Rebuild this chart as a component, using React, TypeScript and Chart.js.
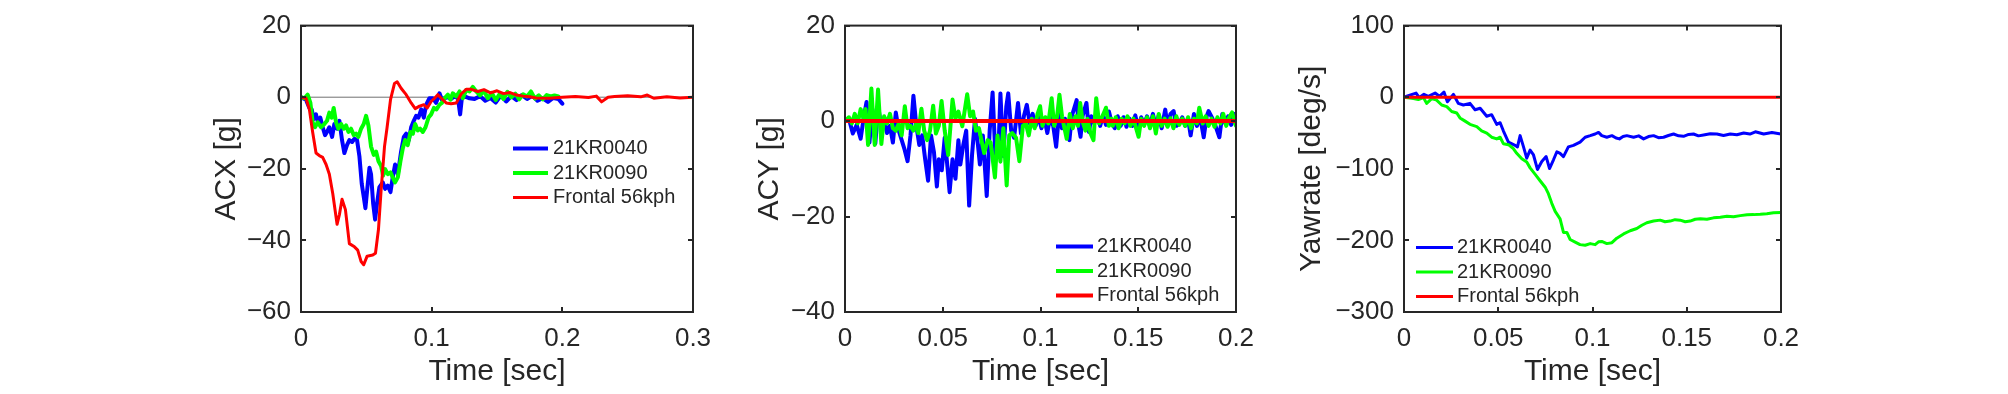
import React, { useEffect, useRef } from "react";
import { Chart, registerables } from "chart.js";

Chart.register(...registerables);

const FONT = "'Liberation Sans', Arial, Helvetica, sans-serif";
const INK = "#262626";
const BLUE = "#0000ff";
const GREEN = "#00ff00";
const RED = "#ff0000";

const SERIES_LABELS = ["21KR0040", "21KR0090", "Frontal 56kph"];
const X_TITLE = "Time [sec]";

type Pt = [number, number];

// ---------- ACX [g] ----------
const ACX_0040: Pt[] = [
  [0, 0], [0.0013, -0.3], [0.0038, -0.7], [0.0064, -3.0], [0.0082, -3.4], [0.0097, -6.1], [0.0115, -4.8],
  [0.0133, -7.5], [0.0148, -5.7], [0.0166, -8.4], [0.0184, -10.6], [0.0199, -9.7], [0.0217, -8.4],
  [0.0238, -11.1], [0.0255, -7.5], [0.0276, -8.8], [0.0294, -6.6], [0.0314, -12.0], [0.0332, -15.6],
  [0.0352, -13.4], [0.037, -12.0], [0.0391, -12.5], [0.0409, -11.6], [0.0429, -12.0], [0.0447, -16.5],
  [0.0465, -24.2], [0.048, -27.8], [0.0493, -31.0], [0.0511, -24.2], [0.0524, -19.7], [0.0536, -21.5],
  [0.0552, -29.6], [0.0567, -34.2], [0.0582, -29.6], [0.06, -25.1], [0.0626, -23.8], [0.0644, -25.6],
  [0.0664, -24.7], [0.0685, -26.5], [0.0702, -22.4], [0.072, -18.8], [0.0741, -21.5], [0.0766, -15.2],
  [0.0787, -11.1], [0.0805, -10.2], [0.0825, -12.0], [0.0843, -8.4], [0.0863, -6.6], [0.0881, -5.2],
  [0.0899, -5.7], [0.092, -3.4], [0.094, -5.7], [0.0958, -2.1], [0.0983, -0.3], [0.1009, -0.3],
  [0.1034, -1.6], [0.106, 1.1], [0.1078, -0.7], [0.1098, -0.3], [0.1124, 0.0], [0.1149, -0.5],
  [0.1175, 0.2], [0.1201, -0.3], [0.1218, -4.8], [0.1231, -0.3], [0.1252, 0.2], [0.129, -0.3],
  [0.1328, -0.5], [0.137, 0.3], [0.141, -1.0], [0.145, -0.2], [0.149, -1.5], [0.153, 0.5], [0.157, -1.2],
  [0.161, 0.3], [0.165, -0.8], [0.169, 0.6], [0.173, -0.5], [0.177, 0.4], [0.181, -1.0], [0.185, -0.3],
  [0.189, -1.3], [0.193, -0.2], [0.197, -0.5], [0.2, -1.8],
];
const ACX_0090: Pt[] = [
  [0, 0], [0.0026, -0.3], [0.0051, 0.7], [0.0072, -1.6], [0.0089, -7.0], [0.0107, -8.4], [0.0128, -7.0],
  [0.0153, -8.4], [0.0179, -7.5], [0.0199, -6.6], [0.0217, -4.3], [0.0235, -5.7], [0.025, -3.0],
  [0.0268, -7.0], [0.0286, -8.8], [0.0307, -7.5], [0.0327, -8.8], [0.0345, -7.9], [0.0363, -9.7],
  [0.0383, -8.8], [0.0404, -10.6], [0.0421, -10.2], [0.0439, -11.1], [0.046, -8.8], [0.048, -7.5],
  [0.0498, -5.2], [0.0516, -7.9], [0.0536, -13.8], [0.0557, -16.1], [0.0575, -15.2], [0.0593, -17.9],
  [0.0613, -19.2], [0.0628, -21.9], [0.0644, -20.1], [0.0664, -21.5], [0.0685, -21.0], [0.0702, -22.4],
  [0.072, -23.8], [0.0741, -22.4], [0.0761, -17.9], [0.0779, -14.3], [0.0797, -12.0], [0.0817, -13.4],
  [0.0838, -9.7], [0.0856, -10.2], [0.0874, -7.5], [0.0894, -9.3], [0.0912, -8.8], [0.0932, -9.7],
  [0.0953, -8.4], [0.0976, -5.7], [0.0996, -4.8], [0.1017, -3.0], [0.1037, -3.4], [0.106, -2.1],
  [0.1078, -1.6], [0.1098, -0.3], [0.1124, 0.7], [0.1144, -0.7], [0.1162, 1.1], [0.1188, 0.2],
  [0.1213, 1.6], [0.1239, -0.3], [0.1264, 2.0], [0.129, 1.6], [0.1315, 2.9], [0.1341, 1.6],
  [0.137, 0.5], [0.14, 1.8], [0.143, -0.3], [0.146, 1.2], [0.149, -0.8], [0.152, 0.9], [0.155, -0.5],
  [0.158, 1.5], [0.161, 0.0], [0.164, 1.0], [0.167, -0.6], [0.17, 0.8], [0.173, 0.2], [0.176, 1.6],
  [0.179, -0.4], [0.182, 0.5], [0.185, -0.6], [0.188, 0.6], [0.191, 0.2], [0.194, 0.5], [0.197, 0.2],
];
const ACX_FRONTAL: Pt[] = [
  [0, 0], [0.0038, -0.3], [0.0064, -3.4], [0.0089, -9.7], [0.0115, -15.6], [0.014, -16.3], [0.0166, -16.8],
  [0.0192, -18.8], [0.0217, -21.5], [0.0243, -26.9], [0.0276, -35.5], [0.0294, -32.8], [0.0314, -28.5],
  [0.034, -31.4], [0.037, -40.9], [0.0409, -41.8], [0.0434, -42.7], [0.046, -45.9], [0.048, -46.8],
  [0.0506, -44.4], [0.0549, -44.1], [0.057, -43.6], [0.0593, -36.9], [0.0613, -26.0], [0.0639, -13.8],
  [0.0659, -8.4], [0.0685, -0.7], [0.0715, 3.8], [0.0736, 4.3], [0.0766, 2.5], [0.0805, 0.7],
  [0.0843, -1.6], [0.0874, -3.2], [0.0907, -2.5], [0.094, -2.1], [0.0966, -3.0], [0.0996, -1.2],
  [0.1022, -0.3], [0.1047, 0.7], [0.1073, -0.3], [0.1111, -1.6], [0.1149, -1.8], [0.1188, -1.6],
  [0.1226, 0.9], [0.1264, 2.2], [0.1303, 2.2], [0.1354, 1.6], [0.14, 2.1], [0.145, 1.2], [0.15, 1.8],
  [0.155, 1.0], [0.16, 1.3], [0.165, 0.6], [0.17, 0.3], [0.175, 0.1], [0.18, -0.2], [0.19, -0.3],
  [0.2, 0.0], [0.21, 0.2], [0.22, -0.1], [0.226, 0.3], [0.23, -1.3], [0.235, 0.0], [0.24, 0.2],
  [0.25, 0.4], [0.26, 0.1], [0.265, 0.6], [0.27, -0.3], [0.28, 0.1], [0.29, -0.2], [0.3, 0.0],
];
const ACX_ZERO: Pt[] = [[0, 0], [0.3, 0]];

// ---------- ACY [g] ----------
const ACY_0040: Pt[] = [
  [0, 0], [0.002, 0.5], [0.004, -2.6], [0.006, -0.8], [0.008, -3.7], [0.0095, 0.5], [0.011, 4.0],
  [0.0125, -4.5], [0.014, 2.5], [0.0155, -4.7], [0.017, 3.0], [0.0185, -1.0], [0.02, 0.5], [0.0215, -2.5],
  [0.023, -1.0], [0.0245, -4.5], [0.026, 1.8], [0.0275, -2.0], [0.029, -4.0], [0.0305, -6.0],
  [0.032, -8.4], [0.0335, -3.0], [0.035, 5.3], [0.0365, -1.0], [0.038, -5.0], [0.0395, -3.0],
  [0.041, -8.0], [0.0425, -12.5], [0.044, -3.0], [0.0455, -6.5], [0.047, -13.7], [0.048, -8.0],
  [0.0495, -10.3], [0.051, -3.5], [0.0525, -10.0], [0.0535, -14.9], [0.055, -8.0], [0.0565, -12.1],
  [0.058, -4.0], [0.059, -9.1], [0.0605, -5.0], [0.062, -2.0], [0.0635, -17.7], [0.065, -7.0],
  [0.0665, 0.5], [0.068, -5.0], [0.069, -9.1], [0.0705, -3.0], [0.0725, -15.7], [0.074, -2.0],
  [0.0755, 6.0], [0.077, -8.0], [0.0785, -6.0], [0.0795, 5.8], [0.081, -7.3], [0.0825, 3.0],
  [0.0835, 5.8], [0.085, -2.0], [0.0865, -3.5], [0.0885, 3.8], [0.09, -2.6], [0.0915, 1.0],
  [0.093, 3.4], [0.0945, -0.5], [0.096, 1.5], [0.0975, -1.0], [0.099, 1.0], [0.1005, -1.5],
  [0.102, 0.5], [0.1035, -2.5], [0.105, 1.0], [0.1065, -1.0], [0.108, -5.4], [0.1095, 1.5],
  [0.111, -1.5], [0.1125, 0.5], [0.1148, -4.0], [0.116, 1.0], [0.1185, 4.4], [0.1195, -1.0],
  [0.1205, -3.3], [0.1215, 1.0], [0.1235, 3.8], [0.1248, -2.3], [0.126, 1.0], [0.1275, -0.5],
  [0.129, 1.5], [0.1305, -1.0], [0.132, 1.2], [0.1335, -0.8], [0.135, 2.0], [0.1365, -0.5],
  [0.138, -1.5], [0.1395, 1.0], [0.141, -1.0], [0.1425, 0.8], [0.144, -1.2], [0.1455, 0.5],
  [0.147, -1.0], [0.1485, 1.2], [0.15, -1.5], [0.1515, 0.8], [0.153, -0.6], [0.1545, 1.0],
  [0.156, -1.0], [0.1575, 1.5], [0.159, -1.2], [0.1605, 1.2], [0.162, -1.5], [0.1638, 2.4],
  [0.165, -1.0], [0.1665, 1.5], [0.1681, 2.1], [0.1695, -1.0], [0.171, -0.5], [0.1725, 0.8],
  [0.174, -1.0], [0.1755, 0.5], [0.1768, -3.0], [0.1785, 1.5], [0.18, -1.0], [0.1815, 1.2],
  [0.1835, -3.4], [0.185, 1.0], [0.186, 2.1], [0.188, 0.5], [0.1895, -1.0], [0.1915, -3.4],
  [0.193, 1.5], [0.1945, -0.5], [0.196, 1.0], [0.1975, -0.8], [0.199, 1.5], [0.2, 1.0],
];
const ACY_0090: Pt[] = [
  [0, 0], [0.002, 0.8], [0.0035, -0.5], [0.005, 1.5], [0.0065, -0.5], [0.008, 2.5], [0.0095, 0.5],
  [0.0105, 2.5], [0.0118, -5.0], [0.0135, 6.8], [0.0152, -5.0], [0.0169, 6.6], [0.0186, -4.8],
  [0.02, 1.0], [0.0215, -0.5], [0.023, 1.5], [0.0245, -1.5], [0.026, -2.0], [0.0275, -0.5],
  [0.029, -3.0], [0.0306, 3.1], [0.032, -1.5], [0.0335, -1.0], [0.035, -2.0], [0.0365, -0.5],
  [0.0375, -2.5], [0.0391, 2.6], [0.0405, -2.0], [0.042, -4.0], [0.0435, -2.0], [0.0451, 3.2],
  [0.0465, -2.6], [0.048, -1.0], [0.0494, 4.2], [0.051, -2.0], [0.0528, -7.1], [0.055, 4.5],
  [0.0565, 0.5], [0.058, 2.0], [0.06, -1.1], [0.0625, 5.6], [0.064, 1.0], [0.0655, 2.0], [0.067, -2.0],
  [0.0685, -1.5], [0.0712, -6.7], [0.073, -4.0], [0.0745, -4.5], [0.0767, -11.8], [0.078, -3.0],
  [0.0795, -8.5], [0.081, -1.5], [0.0827, -13.5], [0.084, -3.0], [0.0855, -2.5], [0.0875, -3.5],
  [0.0892, -8.4], [0.091, -1.0], [0.0925, -0.5], [0.094, -3.0], [0.0955, 0.5], [0.097, -1.5],
  [0.0985, 1.5], [0.0998, 3.1], [0.101, -1.0], [0.1025, 0.8], [0.104, -0.5], [0.1057, 4.8],
  [0.107, -1.0], [0.1085, 1.0], [0.1097, 5.5], [0.111, 1.0], [0.1134, -3.7], [0.115, 1.5],
  [0.1165, -1.5], [0.118, 1.0], [0.1192, -1.0], [0.1203, 3.8], [0.1215, 0.0], [0.123, -2.0],
  [0.124, 0.5], [0.1255, -2.5], [0.1271, -4.0], [0.1285, 4.8], [0.13, -0.5], [0.1315, 0.8],
  [0.1335, 2.8], [0.135, -1.0], [0.1362, 0.5], [0.137, -1.0], [0.1385, 0.8], [0.14, -1.5],
  [0.1415, 0.5], [0.143, -0.5], [0.1445, 1.0], [0.146, -1.0], [0.1475, 0.5], [0.1502, -3.3],
  [0.1515, 0.5], [0.153, -1.0], [0.1545, 0.8], [0.156, -1.5], [0.1575, 1.0], [0.159, -2.6],
  [0.1605, 1.5], [0.162, -1.0], [0.1635, 0.5], [0.165, -1.2], [0.1665, 0.6], [0.168, -1.5],
  [0.1695, 1.0], [0.171, -0.8], [0.1725, 0.5], [0.174, -1.0], [0.1755, 0.8], [0.177, -1.5],
  [0.1785, 0.5], [0.18, -0.5], [0.1812, 2.8], [0.183, -0.5], [0.1845, 1.0], [0.186, -1.0],
  [0.1875, 0.5], [0.189, -1.2], [0.1905, 0.8], [0.192, -0.5], [0.1935, 1.5], [0.195, -1.0],
  [0.1965, 0.8], [0.198, 1.8], [0.1995, -0.5], [0.2, -1.0],
];
const ACY_FRONTAL: Pt[] = [[0, 0], [0.2, 0]];

// ---------- Yawrate [deg/s] ----------
const YAW_0040: Pt[] = [
  [0, 0], [0.0064, 5.8], [0.0081, -0.5], [0.0106, 4.0], [0.0129, 1.3], [0.0165, 5.8], [0.0188, 1.3],
  [0.0212, 7.1], [0.023, -6.4], [0.0262, 4.0], [0.0288, -8.6], [0.0315, -10.9], [0.035, -8.6],
  [0.0377, -17.6], [0.0404, -15.4], [0.0439, -26.6], [0.0465, -24.4], [0.0492, -37.9], [0.051, -35.6],
  [0.0527, -46.9], [0.0554, -62.7], [0.0589, -67.2], [0.0602, -69.4], [0.0616, -53.7], [0.0634, -69.4],
  [0.0651, -85.2], [0.0669, -73.9], [0.0687, -80.7], [0.0708, -100.9], [0.0731, -89.7], [0.0754, -82.9],
  [0.0772, -99.6], [0.0793, -87.4], [0.0811, -76.2], [0.0828, -78.4], [0.0846, -82.9], [0.0872, -69.4],
  [0.0899, -67.2], [0.0934, -62.7], [0.0961, -55.9], [0.0988, -53.7], [0.1014, -51.4], [0.1032, -49.2],
  [0.1049, -53.7], [0.1076, -55.9], [0.1103, -53.7], [0.1125, -57.0], [0.1143, -58.2], [0.1162, -55.0],
  [0.1182, -53.7], [0.1218, -55.9], [0.1245, -54.0], [0.1271, -58.2], [0.1297, -55.0], [0.1324, -53.7],
  [0.135, -56.5], [0.1377, -55.9], [0.1403, -53.5], [0.143, -51.4], [0.1457, -54.0], [0.1483, -54.6],
  [0.151, -52.0], [0.1536, -51.4], [0.1562, -54.0], [0.1589, -52.8], [0.1625, -51.0], [0.166, -51.4],
  [0.1695, -53.5], [0.1731, -51.4], [0.1766, -52.5], [0.1802, -50.1], [0.1835, -51.5], [0.1864, -48.3],
  [0.1908, -51.4], [0.1952, -49.2], [0.2, -51.4],
];
const YAW_0090: Pt[] = [
  [0, 0], [0.005, -1.9], [0.0076, -3.2], [0.0103, -0.5], [0.012, -8.6], [0.0147, -1.9], [0.0173, -4.1],
  [0.02, -10.9], [0.0227, -13.1], [0.0253, -19.9], [0.028, -22.1], [0.0297, -28.9], [0.0324, -33.4],
  [0.035, -37.9], [0.0386, -41.0], [0.0412, -46.9], [0.0439, -50.1], [0.0465, -55.9], [0.0492, -58.2],
  [0.051, -55.9], [0.0527, -64.9], [0.0554, -66.3], [0.058, -71.7], [0.0598, -78.4], [0.0625, -86.1],
  [0.0651, -90.6], [0.0669, -98.7], [0.0696, -107.7], [0.0722, -116.7], [0.0749, -125.7],
  [0.0766, -134.7], [0.0784, -148.2], [0.0802, -159.5], [0.0828, -169.9], [0.0846, -188.8],
  [0.0864, -188.8], [0.0881, -198.7], [0.0908, -202.3], [0.0934, -205.9], [0.0961, -206.8],
  [0.0988, -204.5], [0.1014, -205.9], [0.1032, -202.0], [0.1049, -201.4], [0.1076, -204.5],
  [0.1103, -203.2], [0.1129, -196.9], [0.1165, -191.0], [0.12, -186.5], [0.1235, -183.4],
  [0.1262, -178.9], [0.1288, -175.3], [0.1324, -173.0], [0.1359, -171.7], [0.1385, -174.0],
  [0.1412, -173.0], [0.1438, -171.0], [0.1465, -171.7], [0.1492, -174.0], [0.1518, -173.0],
  [0.1545, -170.5], [0.1572, -169.9], [0.1607, -170.5], [0.1642, -168.5], [0.1678, -167.8],
  [0.1713, -166.3], [0.1748, -167.0], [0.1784, -165.4], [0.182, -164.2], [0.1855, -164.0],
  [0.189, -163.5], [0.1925, -162.7], [0.196, -161.5], [0.2, -160.9],
];
const YAW_FRONTAL: Pt[] = [[0, 0], [0.2, 0]];

// ---------- axis ranges ----------
const ACX_X = { max: 0.3, step: 0.1 };
const ACX_Y = { min: -60, max: 20, step: 20 };
const ACY_X = { max: 0.2, step: 0.05 };
const ACY_Y = { min: -40, max: 20, step: 20 };
const YAW_X = { max: 0.2, step: 0.05 };
const YAW_Y = { min: -300, max: 100, step: 100 };

// ---------- layout ----------
const H = 394;
const YAXIS_W = 130;
const RIGHT_PAD = 40;
const TICK_FONT = 26;
const TITLE_FONT = 30;
const LEGEND_FONT = 20;

interface PanelSpec {
  yTitle: string;
  x: { max: number; step: number };
  y: { min: number; max: number; step: number };
  series: { pts: Pt[]; color: string; width: number; label: string; order: number }[];
  box: { left: number; top: number; right: number; bottom: number };
  yTitlePad: number;
  legend: { dx: number; dy: number; row: number; len: number; gap: number };
}

const fmt = (v: number | string) => {
  const n = Math.round(Number(v) * 1000) / 1000;
  return String(n).replace("-", "\u2212");
};

const matlabAxes = {
  id: "matlabAxes",
  afterDatasetsDraw(chart: any, _args: any, opts: any) {
    const { ctx, chartArea: a } = chart;
    const xs = chart.scales.x;
    const ys = chart.scales.y;
    const TL = 5;
    ctx.save();
    ctx.strokeStyle = INK;
    ctx.lineWidth = 2;
    ctx.beginPath();
    for (const t of xs.ticks) {
      const p = Math.round(xs.getPixelForValue(t.value));
      ctx.moveTo(p, a.bottom);
      ctx.lineTo(p, a.bottom - TL);
      ctx.moveTo(p, a.top);
      ctx.lineTo(p, a.top + TL);
    }
    for (const t of ys.ticks) {
      const p = Math.round(ys.getPixelForValue(t.value));
      ctx.moveTo(a.left, p);
      ctx.lineTo(a.left + TL, p);
      ctx.moveTo(a.right, p);
      ctx.lineTo(a.right - TL, p);
    }
    ctx.stroke();
    ctx.strokeRect(a.left, a.top, a.right - a.left, a.bottom - a.top);

    const lg = opts && opts.legend;
    if (lg) {
      ctx.font = `${LEGEND_FONT}px ${FONT}`;
      ctx.textBaseline = "middle";
      ctx.textAlign = "left";
      let row = 0;
      chart.data.datasets.forEach((ds: any) => {
        if (!ds.label) return;
        const y = a.top + lg.dy + row * lg.row;
        const x0 = a.left + lg.dx;
        ctx.strokeStyle = ds.borderColor;
        ctx.lineWidth = ds.borderWidth;
        ctx.beginPath();
        ctx.moveTo(x0, y);
        ctx.lineTo(x0 + lg.len, y);
        ctx.stroke();
        ctx.fillStyle = INK;
        ctx.fillText(ds.label, x0 + lg.len + lg.gap, y);
        row++;
      });
    }
    ctx.restore();
  },
};

function Panel({ spec }: { spec: PanelSpec }) {
  const ref = useRef<HTMLCanvasElement>(null);
  const width = YAXIS_W + (spec.box.right - spec.box.left) + RIGHT_PAD;
  const left = spec.box.left - YAXIS_W;

  useEffect(() => {
    if (!ref.current) return;
    const chart = new Chart(ref.current, {
      type: "line",
      data: {
        datasets: spec.series.map((s) => ({
          label: s.label,
          data: s.pts.map(([x, y]) => ({ x, y })),
          borderColor: s.color,
          backgroundColor: s.color,
          borderWidth: s.width,
          pointRadius: 0,
          tension: 0,
          fill: false,
          order: s.order,
          borderJoinStyle: "round" as const,
          borderCapStyle: "round" as const,
        })),
      },
      options: {
        animation: false,
        responsive: false,
        maintainAspectRatio: false,
        devicePixelRatio: 1,
        events: [],
        layout: { padding: { left: 0, top: spec.box.top, right: RIGHT_PAD, bottom: 0 } },
        plugins: {
          legend: { display: false },
          tooltip: { enabled: false },
          // @ts-ignore
          matlabAxes: { legend: spec.legend },
        },
        scales: {
          x: {
            type: "linear",
            min: 0,
            max: spec.x.max,
            grid: { display: false, drawTicks: false },
            border: { display: false },
            ticks: {
              stepSize: spec.x.step,
              autoSkip: false,
              maxRotation: 0,
              padding: 11,
              color: INK,
              font: { family: FONT, size: TICK_FONT },
              callback: (v: any) => fmt(v),
            },
            title: {
              display: true,
              text: X_TITLE,
              color: INK,
              font: { family: FONT, size: TITLE_FONT },
              padding: { top: 0, bottom: 4 },
            },
            afterFit: (s: any) => {
              s.height = H - spec.box.bottom;
            },
          },
          y: {
            type: "linear",
            min: spec.y.min,
            max: spec.y.max,
            grid: { display: false, drawTicks: false },
            border: { display: false },
            ticks: {
              stepSize: spec.y.step,
              autoSkip: false,
              padding: 10,
              color: INK,
              font: { family: FONT, size: TICK_FONT },
              callback: (v: any) => fmt(v),
            },
            title: {
              display: true,
              text: spec.yTitle,
              color: INK,
              font: { family: FONT, size: TITLE_FONT },
              padding: { top: spec.yTitlePad, bottom: 0 },
            },
            afterFit: (s: any) => {
              s.width = YAXIS_W;
            },
          },
        },
      },
      plugins: [matlabAxes],
    } as any);
    return () => chart.destroy();
  }, [spec]);

  return (
    <canvas
      ref={ref}
      width={width}
      height={H}
      style={{ position: "absolute", left, top: 0, width, height: H }}
    />
  );
}

const PANELS: PanelSpec[] = [
  {
    yTitle: "ACX [g]",
    x: ACX_X,
    y: ACX_Y,
    series: [
      { pts: ACX_0040, color: BLUE, width: 4, label: SERIES_LABELS[0], order: 3 },
      { pts: ACX_0090, color: GREEN, width: 4, label: SERIES_LABELS[1], order: 2 },
      { pts: ACX_FRONTAL, color: RED, width: 3, label: SERIES_LABELS[2], order: 1 },
      { pts: ACX_ZERO, color: "#707070", width: 1, label: "", order: 9 },
    ],
    box: { left: 301, top: 17, right: 693, bottom: 312 },
    yTitlePad: 38,
    legend: { dx: 212, dy: 123, row: 24.5, len: 35, gap: 5 },
  },
  {
    yTitle: "ACY [g]",
    x: ACY_X,
    y: ACY_Y,
    series: [
      { pts: ACY_0040, color: BLUE, width: 4, label: SERIES_LABELS[0], order: 3 },
      { pts: ACY_0090, color: GREEN, width: 4, label: SERIES_LABELS[1], order: 2 },
      { pts: ACY_FRONTAL, color: RED, width: 4, label: SERIES_LABELS[2], order: 1 },
    ],
    box: { left: 845, top: 17, right: 1236, bottom: 312 },
    yTitlePad: 37,
    legend: { dx: 211, dy: 221, row: 24.5, len: 37, gap: 4 },
  },
  {
    yTitle: "Yawrate [deg/s]",
    x: YAW_X,
    y: YAW_Y,
    series: [
      { pts: YAW_0040, color: BLUE, width: 3, label: SERIES_LABELS[0], order: 3 },
      { pts: YAW_0090, color: GREEN, width: 3, label: SERIES_LABELS[1], order: 2 },
      { pts: YAW_FRONTAL, color: RED, width: 3, label: SERIES_LABELS[2], order: 1 },
    ],
    box: { left: 1404, top: 16, right: 1781, bottom: 312 },
    yTitlePad: 20,
    legend: { dx: 12, dy: 222, row: 24.5, len: 37, gap: 4 },
  },
];

export default function App() {
  return (
    <div
      style={{
        position: "absolute",
        left: 0,
        top: 0,
        width: 2008,
        height: H,
        background: "#ffffff",
        overflow: "hidden",
      }}
    >
      {PANELS.map((p, i) => (
        <Panel key={i} spec={p} />
      ))}
    </div>
  );
}
